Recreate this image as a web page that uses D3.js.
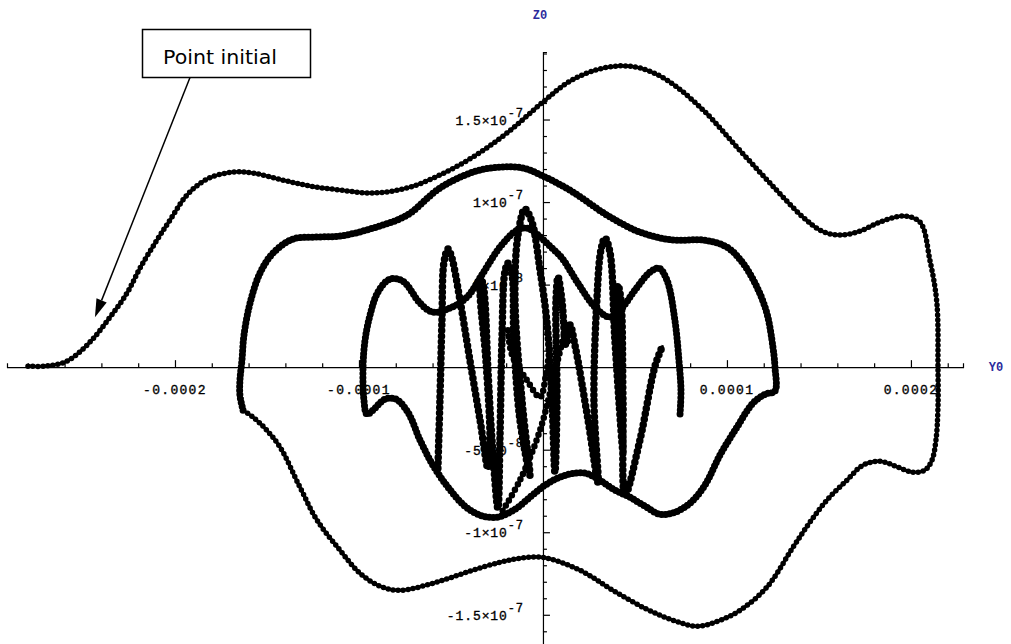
<!DOCTYPE html>
<html><head><meta charset="utf-8">
<script src="https://cdn.jsdelivr.net/npm/d3@7"></script>
<style>body{margin:0;background:#fff}svg{display:block}</style>
</head><body>
<svg id="c" width="1011" height="644"></svg>
<script>
// Units: Y0 values in 1e-5, Z0 values in 1e-8
const Y_UNIT = 1e-5, Z_UNIT = 1e-8;

// Outer loop (from the initial point, over the top, round the right and along the bottom)
const outerY = [-27.99,-27.07,-25.87,-24.62,-23.53,-22.61,-21.90,-20.98,-20.27,-19.35,-18.26,-16.85,-15.76,-14.13,-12.66,-11.03,-9.24,-7.39,-5.60,-3.80,-1.96,0,1.30,2.55,4.02,5.27,6.74,8.70,10.54,12.34,14.13,15.16,16.14,17.23,18.32,19.57,20.49,21.03,21.41,21.47,21.47,21.36,21.14,20.76,20.11,19.29,18.32,17.39,16.52,15.43,14.51,13.59,12.17,10.71,9.51,8.37,7.07,5.65,3.80,2.01,0,-1.25,-2.34,-4.13,-5.98,-7.77,-8.86,-9.95,-11.03,-12.28,-13.21,-14.29,-15.11,-15.76,-16.30];
const outerZ = [0.06,0.06,0.36,1.52,3.03,4.48,6.00,7.70,8.91,10.42,11.39,11.82,11.76,11.33,10.97,10.73,10.55,10.85,11.64,12.73,14.18,16.06,17.21,17.88,18.24,18.12,17.39,15.58,13.33,11.15,9.09,8.24,8.00,8.24,8.79,9.15,8.79,6.48,3.88,0,-2.42,-4.42,-5.64,-6.24,-6.36,-6.06,-5.70,-5.94,-6.85,-8.06,-9.39,-10.91,-13.33,-14.73,-15.39,-15.70,-15.33,-14.67,-13.52,-12.30,-11.52,-11.58,-11.82,-12.42,-13.09,-13.52,-13.27,-12.48,-11.09,-9.27,-7.27,-4.85,-3.70,-3.03,-2.61];

// Middle and inner loops
const midY = [-16.30,-16.47,-16.47,-16.36,-16.25,-15.92,-15.38,-14.67,-13.59,-12.28,-11.03,-9.24,-7.39,-5.60,-3.80,-2.34,-1.09,0,1.63,3.48,5.27,7.07,8.70,10.00,10.87,11.63,12.17,12.50,12.61,12.61,12.07,11.41,10.54,9.62,8.80,7.99,7.17,6.36,5.54,4.73,3.91,3.10,2.28,1.20,0.11,-0.71,-1.52,-2.50,-3.42,-4.24,-5.16,-5.98,-6.68,-7.34,-7.99,-8.59,-9.24,-9.57,-9.73,-9.78,-9.67,-9.40,-8.97,-8.32,-7.61,-6.68,-5.98,-5.05,-4.13,-3.26,-2.34,-1.41,-0.87,-0.33,0.38,1.03,1.90,2.83,3.64,4.29,5.00,5.82,6.30,6.74,7.17,7.39,7.50,7.45];
const midZ = [-2.61,-1.70,-0.79,0.42,1.94,3.88,5.70,6.91,7.76,7.88,7.94,8.42,9.21,10.85,11.82,12.12,12.06,11.58,10.61,9.21,8.18,7.70,7.70,7.27,6.30,4.85,3.27,1.21,0,-1.45,-1.64,-2.18,-3.64,-5.33,-7.15,-8.24,-8.79,-8.91,-8.42,-7.88,-7.45,-6.85,-6.42,-6.55,-7.15,-7.88,-8.61,-9.09,-8.97,-8.42,-7.27,-5.94,-4.42,-2.73,-1.94,-1.94,-2.61,-2.85,-2.00,0,1.64,3.15,4.55,5.33,5.21,3.88,3.33,3.58,4.24,5.70,7.27,8.30,8.42,8.06,7.33,6.61,5.09,3.64,3.03,3.58,4.67,5.76,6.00,5.27,2.85,0.42,-1.39,-2.85];

// Fast inner oscillation
const zigY = [-5.71,-5.60,-5.49,-5.38,-5.16,-4.95,-4.51,-3.97,-3.42,-2.99,-2.88,-3.10,-3.42,-3.37,-3.21,-2.99,-2.77,-2.45,-2.34,-2.23,-2.07,-1.90,-1.68,-1.58,-1.25,-0.71,-1.14,-1.52,-1.36,-0.98,-0.60,-0.16,0.22,0.49,0.65,0.76,0.71,0.82,1.03,1.25,1.47,1.74,2.45,2.99,2.77,2.93,3.15,3.37,3.64,3.91,4.35,4.24,4.02,4.08,4.24,4.35,4.46,5.27,6.09,6.52];
const zigZ = [-6.12,-2.00,2.85,6.36,7.15,6.61,4.06,0.42,-3.21,-6.12,-4.42,0.42,4.55,5.39,4.67,-0.18,-4.42,-8.55,-4.42,1.64,5.76,6.30,5.58,1.64,-3.21,-6.55,-2.00,4.06,8.00,9.58,8.79,5.88,2.67,-2.00,-6.36,-2.00,4.06,5.45,4.06,1.33,2.55,1.33,-3.21,-6.97,-2.00,4.06,7.09,7.82,6.97,1.64,-5.15,-0.79,4.06,4.97,4.06,-2.00,-7.76,-4.42,0.06,1.33];
const zig2Y = [1.20, 0.65, -0.16, -1.25, -2.34];
const zig2Z = [2.24, -0.30, -3.82, -6.85, -8.97];
const zig3Y = [-1.90, -1.68, -0.87, -0.16, 0.16, 0.38];
const zig3Z = [2.24, 0.73, -0.79, -1.82, -0.48, 1.33];

// Tick labels
const xTickVals = [-2e-4, -1e-4, 1e-4, 2e-4];
const xTickLabels = ["-0.0002", "-0.0001", "0.0001", "0.0002"];
const zTickVals = [1.5e-7, 1e-7, 5e-8, -5e-8, -1e-7, -1.5e-7];
const zTickBase = ["1.5×10", "1×10", "5×10", "-5×10", "-1×10", "-1.5×10"];
const zTickExp = ["-7", "-7", "-8", "-8", "-7", "-7"];
const initialPointY = -2.435e-4, initialPointZ = 3.03e-8; // arrow target

const svg = d3.select("#c");
const x = d3.scaleLinear().domain([-2.913e-4, 2.283e-4]).range([7, 963]);
const y = d3.scaleLinear().domain([-1.677e-7, 1.909e-7]).range([644, 52]);
const x0 = x(0), y0 = y(0);

const mono = "'Liberation Mono','DejaVu Sans Mono',monospace";

// X axis (ticks above the line)
const xt = d3.range(-14, 12).map(i => i * 2e-5);
const gx = svg.append("g").attr("transform", `translate(0,${y0})`)
  .call(d3.axisTop(x).tickValues(xt).tickFormat("").tickSizeOuter(0).tickSize(4));
gx.selectAll(".tick line").attr("y2", d => Math.abs(Math.round(d / 1e-4) * 1e-4 - d) < 1e-9 ? -7 : -4);
// Y axis (ticks right of line)
const zt = d3.range(-16, 20).map(i => i * 1e-8);
const gy = svg.append("g").attr("transform", `translate(${x0},0)`)
  .call(d3.axisRight(y).tickValues(zt.filter(v => Math.abs(v) > 1e-12)).tickFormat("").tickSizeOuter(0).tickSize(4));
gy.selectAll(".tick line").attr("x2", d => Math.abs(Math.round(d / 5e-8) * 5e-8 - d) < 1e-12 ? 7 : 4);
svg.selectAll(".domain, .tick line").attr("stroke", "#000").attr("stroke-width", 1.2);

// tick labels
svg.append("g").selectAll("text").data(xTickVals).join("text")
  .attr("x", d => x(d)).attr("y", y0 + 27).attr("text-anchor", "middle")
  .attr("font-family", mono).attr("font-size", 13).attr("letter-spacing", 1.3).attr("fill", "#000")
  .attr("stroke", "#000").attr("stroke-width", 0.35)
  .text((d, i) => xTickLabels[i]);
const zl = svg.append("g").selectAll("text").data(zTickVals).join("text")
  .attr("x", x0 - 19).attr("y", d => y(d) + 5).attr("text-anchor", "end")
  .attr("font-family", mono).attr("font-size", 13).attr("letter-spacing", 0.9).attr("fill", "#000")
  .attr("stroke", "#000").attr("stroke-width", 0.35);
zl.append("tspan").text((d, i) => zTickBase[i]);
zl.append("tspan").attr("dy", -8).attr("font-size", 12).text((d, i) => zTickExp[i]);

// axis names
svg.append("text").attr("x", x0 - 3).attr("y", 19).attr("text-anchor", "middle")
  .attr("font-family", mono).attr("font-size", 12).attr("font-weight", "bold").attr("fill", "#2b2b9c").text("Z0");
svg.append("text").attr("x", 996).attr("y", y0 + 4).attr("text-anchor", "middle")
  .attr("font-family", mono).attr("font-size", 12).attr("font-weight", "bold").attr("fill", "#2b2b9c").text("Y0");

// curves
const line = d3.line().x(d => x(d[0] * Y_UNIT)).y(d => y(d[1] * Z_UNIT)).curve(d3.curveCatmullRom.alpha(0.5));
const outer = d3.zip(outerY, outerZ);
const mid = d3.zip(midY, midZ);
const zig = d3.zip(zigY, zigZ);
const zig2 = d3.zip(zig2Y, zig2Z);
const zig3 = d3.zip(zig3Y, zig3Z);

function beaded(data, bead, gap, solidW) {
  svg.append("path").attr("d", line(data)).attr("fill", "none").attr("stroke", "#000")
    .attr("stroke-width", solidW).attr("stroke-linejoin", "round");
  svg.append("path").attr("d", line(data)).attr("fill", "none").attr("stroke", "#000")
    .attr("stroke-width", bead).attr("stroke-linecap", "round").attr("stroke-dasharray", `0 ${gap}`);
}
beaded(outer, 5.5, 5, 3.2);
beaded(mid, 7, 4, 5.5);
beaded(zig, 7.5, 5.5, 2.5);
beaded(zig2, 6.5, 6, 2);
beaded(zig3, 6.5, 6, 2);

// annotation
const bx = 142.5, by = 29.5, bw = 168, bh = 48;
svg.append("rect").attr("x", bx).attr("y", by).attr("width", bw).attr("height", bh)
  .attr("fill", "#fff").attr("stroke", "#000").attr("stroke-width", 1.5);
svg.append("text").attr("x", 163).attr("y", 64).attr("font-family", "'DejaVu Sans',Verdana,sans-serif")
  .attr("font-size", 20).attr("textLength", 114).attr("lengthAdjust", "spacingAndGlyphs").attr("fill", "#000")
  .text("Point initial");
const sx = 190, sy = by + bh;
const tx = x(initialPointY), ty = y(initialPointZ);
const ang = Math.atan2(ty - sy, tx - sx);
const hl = 18, hw = 5.5;
const bxp = tx - hl * Math.cos(ang), byp = ty - hl * Math.sin(ang);
svg.append("line").attr("x1", sx).attr("y1", sy).attr("x2", bxp).attr("y2", byp)
  .attr("stroke", "#000").attr("stroke-width", 1.5);
svg.append("polygon").attr("fill", "#000").attr("points", [
  [tx, ty],
  [bxp + hw * Math.sin(ang), byp - hw * Math.cos(ang)],
  [bxp - hw * Math.sin(ang), byp + hw * Math.cos(ang)]
].map(p => p.join(",")).join(" "));
</script>
</body></html>
